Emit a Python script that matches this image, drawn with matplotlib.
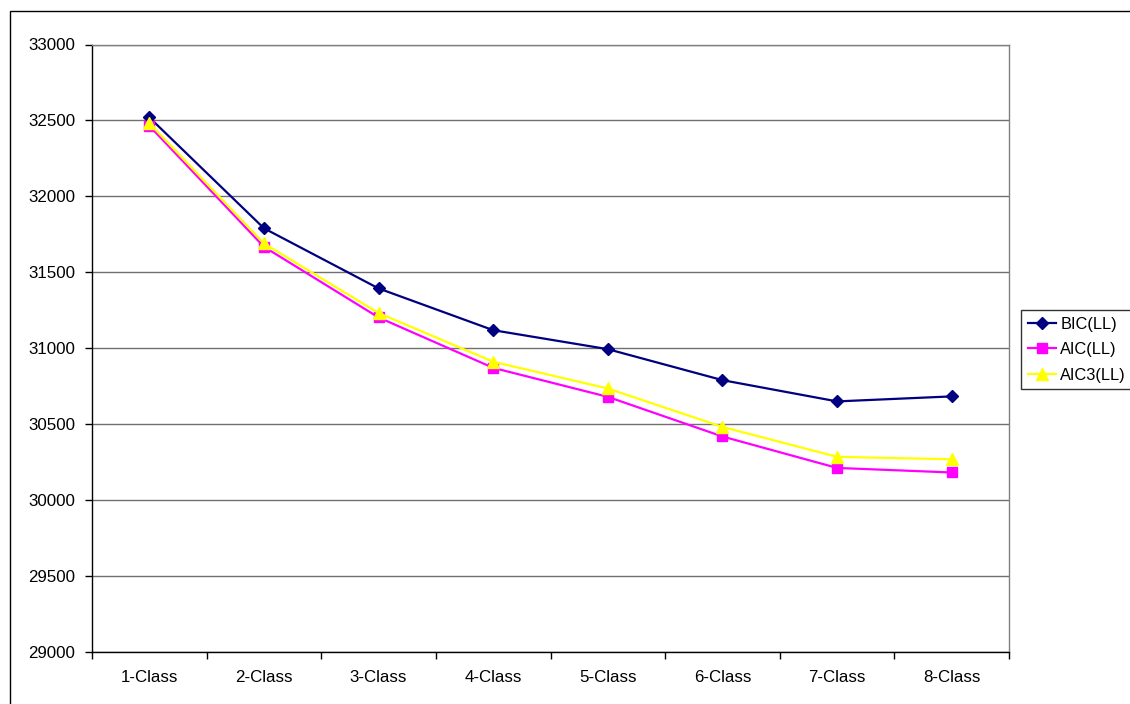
import matplotlib
matplotlib.use("Agg")
import matplotlib.pyplot as plt
from matplotlib.patches import Rectangle
from matplotlib.ticker import FixedLocator, MultipleLocator

plt.rcParams['font.family'] = ['Liberation Sans', 'DejaVu Sans']

categories = ["1-Class", "2-Class", "3-Class", "4-Class",
              "5-Class", "6-Class", "7-Class", "8-Class"]
bic = [32520, 31790, 31394, 31119, 30994, 30790, 30650, 30683]
aic = [32465, 31668, 31203, 30871, 30680, 30419, 30212, 30182]
aic3 = [32482, 31690, 31232, 30911, 30735, 30482, 30285, 30269]

W, H = 1130, 704
fig = plt.figure(figsize=(W / 100, H / 100), dpi=100)

# outer chart frame (runs off the right and bottom edges)
fig.patches.append(Rectangle((10 / W, -0.1), 1.2, (H - 11) / H + 0.1,
                             transform=fig.transFigure, fill=False,
                             edgecolor='black', linewidth=1.0))

ax = fig.add_axes([92 / W, (H - 652) / H, (1009 - 92) / W, (652 - 44.5) / H])

x = list(range(len(categories)))
ax.plot(x, bic, color='#000080', marker='D', markersize=6, linewidth=1.6,
        label='BIC(LL)', zorder=3)
ax.plot(x, aic, color='#FF00FF', marker='s', markersize=6.5, linewidth=1.6,
        label='AIC(LL)', zorder=4)
ax.plot(x, aic3, color='#FFFF00', marker='^', markersize=8, linewidth=1.6,
        label='AIC3(LL)', zorder=5)

ax.set_xlim(-0.5, len(categories) - 0.5)
ax.set_ylim(29000, 33000)
ax.yaxis.set_major_locator(MultipleLocator(500))
ax.grid(axis='y', color='#707070', linewidth=1.0, zorder=0)

ax.set_xticks(x)
ax.set_xticklabels(categories)
ax.xaxis.set_minor_locator(FixedLocator([i + 0.5 for i in range(-1, len(categories))]))
ax.tick_params(axis='x', which='major', length=0, pad=13, labelsize=12.2)
ax.tick_params(axis='x', which='minor', length=5, width=1, direction='out')
ax.tick_params(axis='y', length=5, width=1, direction='out', pad=7, labelsize=12.2)

for side in ('top', 'right'):
    ax.spines[side].set_color('#808080')
    ax.spines[side].set_linewidth(1.0)
for side in ('left', 'bottom'):
    ax.spines[side].set_color('black')
    ax.spines[side].set_linewidth(1.0)

leg = fig.legend(loc='upper left', bbox_to_anchor=(1021 / W, (H - 310) / H),
                 frameon=True, fancybox=False, shadow=False, fontsize=11.8,
                 handlelength=1.75, handletextpad=0.25, borderpad=0.4,
                 labelspacing=0.65, borderaxespad=0)
leg.get_frame().set_edgecolor('black')
leg.get_frame().set_linewidth(1.0)

fig.savefig('out.png', dpi=100)
